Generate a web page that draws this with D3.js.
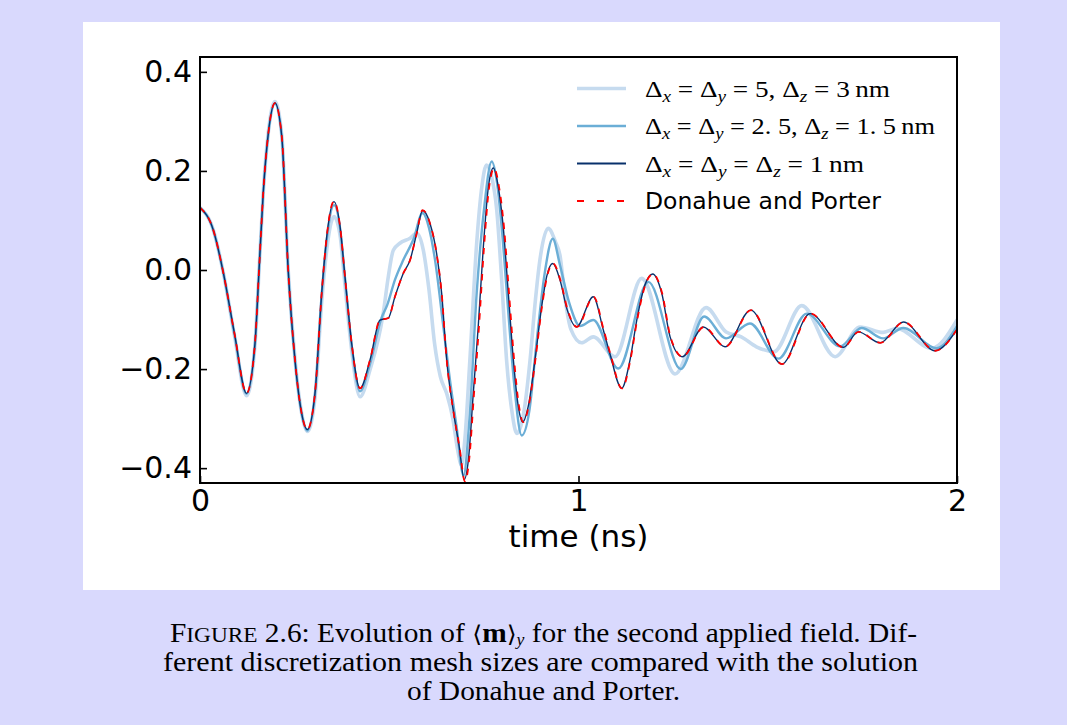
<!DOCTYPE html>
<html>
<head>
<meta charset="utf-8">
<script src="https://cdn.jsdelivr.net/npm/d3@7"></script>
<style>
  html, body { margin: 0; padding: 0; background: #d9d9fd; }
  svg { display: block; }
</style>
</head>
<body>
<svg id="fig" width="1067" height="725"></svg>
<script>
// <m>_y versus time for three mesh sizes and the reference solution

// Coarse mesh: dx = dy = 5 nm, dz = 3 nm
const tCoarse = [0, 0.035, 0.062, 0.091, 0.123, 0.1453, 0.156, 0.167, 0.1805, 0.198, 0.216, 0.233, 0.251, 0.2687, 0.2836, 0.3038, 0.3215, 0.3347, 0.354, 0.37, 0.383, 0.4007, 0.4227, 0.449, 0.484, 0.4976, 0.5107, 0.528, 0.555, 0.5725, 0.59, 0.605, 0.62, 0.635, 0.652, 0.668, 0.68, 0.691, 0.70, 0.713, 0.731, 0.745, 0.757, 0.77, 0.784, 0.797, 0.81, 0.825, 0.837, 0.855, 0.872, 0.885, 0.898, 0.92, 0.94, 0.951, 0.965, 0.98, 1.008, 1.039, 1.0964, 1.167, 1.255, 1.337, 1.39, 1.43, 1.47, 1.516, 1.59, 1.678, 1.744, 1.805, 1.8406, 1.933, 2.0];
const mCoarse = [0.126, 0.081, -0.007, -0.132, -0.254, -0.15, 0, 0.155, 0.278, 0.34, 0.272, 0, -0.18, -0.29, -0.326, -0.258, -0.065, 0.04, 0.108, 0.07, -0.03, -0.162, -0.256, -0.202, -0.088, -0.013, 0.04, 0.054, 0.064, 0.074, 0.04, -0.04, -0.15, -0.215, -0.25, -0.3, -0.36, -0.394, -0.34, -0.182, 0.054, 0.17, 0.212, 0.19, 0.121, -0.02, -0.182, -0.29, -0.33, -0.29, -0.182, -0.07, 0.02, 0.084, 0.055, 0.03, -0.06, -0.12, -0.147, -0.135, -0.175, -0.017, -0.21, -0.076, -0.125, -0.135, -0.155, -0.165, -0.072, -0.175, -0.115, -0.126, -0.118, -0.158, -0.101];

// Medium mesh: dx = dy = 2.5 nm, dz = 1.5 nm
const tMedium = [0, 0.035, 0.062, 0.091, 0.123, 0.1453, 0.156, 0.167, 0.1805, 0.198, 0.216, 0.233, 0.251, 0.2687, 0.2836, 0.3038, 0.3215, 0.3347, 0.354, 0.37, 0.383, 0.4007, 0.4227, 0.449, 0.478, 0.495, 0.515, 0.537, 0.564, 0.588, 0.605, 0.621, 0.643, 0.66, 0.678, 0.696, 0.712, 0.731, 0.75, 0.7706, 0.785, 0.80, 0.815, 0.83, 0.85, 0.87, 0.89, 0.91, 0.932, 0.951, 0.975, 1.004, 1.039, 1.105, 1.1845, 1.27, 1.332, 1.39, 1.453, 1.528, 1.603, 1.691, 1.748, 1.805, 1.858, 1.946, 2.0];
const mMedium = [0.126, 0.081, -0.007, -0.13, -0.25, -0.148, 0, 0.155, 0.275, 0.336, 0.27, 0, -0.183, -0.29, -0.324, -0.25, -0.05, 0.06, 0.131, 0.085, -0.016, -0.152, -0.245, -0.19, -0.1, -0.07, -0.02, 0.02, 0.062, 0.115, 0.085, 0.02, -0.115, -0.22, -0.317, -0.415, -0.3, -0.047, 0.12, 0.219, 0.175, 0.06, -0.09, -0.23, -0.334, -0.285, -0.14, -0.01, 0.063, 0.01, -0.065, -0.113, -0.101, -0.199, -0.024, -0.2, -0.094, -0.138, -0.108, -0.179, -0.088, -0.154, -0.117, -0.138, -0.117, -0.158, -0.113];

// Fine mesh: dx = dy = dz = 1 nm
const tFine = [0, 0.035, 0.062, 0.091, 0.123, 0.1453, 0.156, 0.167, 0.1805, 0.198, 0.216, 0.233, 0.251, 0.2687, 0.2836, 0.3038, 0.3215, 0.3347, 0.354, 0.37, 0.383, 0.4007, 0.4227, 0.449, 0.4756, 0.4975, 0.515, 0.537, 0.555, 0.5725, 0.588, 0.6077, 0.625, 0.6385, 0.6518, 0.669, 0.685, 0.698, 0.709, 0.722, 0.735, 0.7486, 0.762, 0.775, 0.788, 0.801, 0.8146, 0.828, 0.841, 0.8526, 0.867, 0.885, 0.9027, 0.916, 0.932, 0.951, 0.97, 0.995, 1.039, 1.0656, 1.083, 1.114, 1.136, 1.154, 1.1757, 1.196, 1.22, 1.242, 1.274, 1.33, 1.387, 1.455, 1.537, 1.612, 1.70, 1.739, 1.797, 1.858, 1.942, 2.0];
const mFine = [0.126, 0.081, -0.007, -0.128, -0.249, -0.148, 0, 0.155, 0.276, 0.337, 0.27, 0, -0.182, -0.29, -0.322, -0.249, -0.047, 0.067, 0.138, 0.088, -0.013, -0.148, -0.239, -0.182, -0.101, -0.097, -0.054, -0.007, 0.02, 0.074, 0.12, 0.094, 0.034, -0.047, -0.182, -0.283, -0.357, -0.423, -0.384, -0.249, -0.115, 0.047, 0.168, 0.206, 0.168, 0.088, -0.047, -0.182, -0.276, -0.307, -0.276, -0.182, -0.074, -0.013, 0.013, -0.02, -0.08, -0.115, -0.054, -0.121, -0.169, -0.239, -0.182, -0.101, -0.03, -0.008, -0.047, -0.135, -0.175, -0.115, -0.155, -0.081, -0.19, -0.088, -0.156, -0.125, -0.147, -0.105, -0.163, -0.12];

// Donahue and Porter reference solution
const tRef = [0, 0.035, 0.062, 0.091, 0.123, 0.1453, 0.156, 0.167, 0.1805, 0.198, 0.216, 0.233, 0.251, 0.2687, 0.2836, 0.3038, 0.3215, 0.3347, 0.354, 0.37, 0.383, 0.4007, 0.4227, 0.449, 0.4756, 0.4975, 0.515, 0.537, 0.555, 0.5725, 0.588, 0.6077, 0.625, 0.6385, 0.6518, 0.669, 0.686, 0.70, 0.711, 0.724, 0.737, 0.7505, 0.764, 0.777, 0.79, 0.803, 0.8165, 0.83, 0.843, 0.854, 0.868, 0.886, 0.9035, 0.917, 0.933, 0.952, 0.971, 0.996, 1.04, 1.0666, 1.084, 1.115, 1.137, 1.155, 1.1767, 1.197, 1.221, 1.243, 1.275, 1.331, 1.388, 1.456, 1.538, 1.613, 1.70, 1.74, 1.798, 1.859, 1.943, 2.0];
const mRef = [0.126, 0.081, -0.007, -0.128, -0.249, -0.148, 0, 0.155, 0.276, 0.337, 0.27, 0, -0.182, -0.29, -0.322, -0.249, -0.047, 0.067, 0.139, 0.088, -0.013, -0.148, -0.239, -0.182, -0.101, -0.097, -0.054, -0.007, 0.02, 0.074, 0.121, 0.094, 0.034, -0.047, -0.182, -0.283, -0.36, -0.427, -0.384, -0.249, -0.115, 0.047, 0.168, 0.205, 0.168, 0.088, -0.047, -0.182, -0.276, -0.307, -0.276, -0.182, -0.074, -0.013, 0.013, -0.02, -0.08, -0.115, -0.054, -0.121, -0.169, -0.239, -0.182, -0.101, -0.03, -0.008, -0.047, -0.135, -0.175, -0.115, -0.155, -0.081, -0.19, -0.088, -0.156, -0.125, -0.147, -0.105, -0.163, -0.12];

const xTicks = [0, 1, 2];
const xTickLabels = ["0", "1", "2"];
const yTicks = [-0.4, -0.2, 0.0, 0.2, 0.4];
const yTickLabels = ["\u22120.4", "\u22120.2", "0.0", "0.2", "0.4"];
const xLabel = "time (ns)";

const W = 1067, H = 725;
const svg = d3.select("#fig");

// page background and figure panel
svg.append("rect").attr("width", W).attr("height", H).attr("fill", "#d9d9fd");
svg.append("rect").attr("x", 83).attr("y", 22).attr("width", 917).attr("height", 568).attr("fill", "#ffffff");

const plot = { left: 200, right: 957, top: 57, bottom: 483 };
const x = d3.scaleLinear().domain([0, 2]).range([plot.left, plot.right]);
const y = d3.scaleLinear().domain([-0.43, 0.43]).range([plot.bottom, plot.top]);

svg.append("clipPath").attr("id", "plotClip")
  .append("rect")
  .attr("x", plot.left).attr("y", plot.top)
  .attr("width", plot.right - plot.left).attr("height", plot.bottom - plot.top);

const series = [
  { name: "coarse", t: tCoarse, m: mCoarse, color: "#c6dbef", width: 3.6, dash: null, legendDash: null },
  { name: "medium", t: tMedium, m: mMedium, color: "#6baed6", width: 2.4, dash: null, legendDash: null },
  { name: "fine",   t: tFine,   m: mFine,   color: "#08306b", width: 1.4, dash: null, legendDash: null },
  { name: "ref",    t: tRef,    m: mRef,    color: "#ff0000", width: 1.8, dash: "6.5,6.5", legendDash: "7,13" }
];

const line = d3.line()
  .x(d => x(d[0]))
  .y(d => y(d[1]))
  .curve(d3.curveMonotoneX);

const lines = svg.append("g").attr("clip-path", "url(#plotClip)");
series.forEach(s => {
  const pts = s.t.map((tv, i) => [tv, s.m[i]]);
  lines.append("path")
    .datum(pts)
    .attr("d", line)
    .attr("fill", "none")
    .attr("stroke", s.color)
    .attr("stroke-width", s.width)
    .attr("stroke-linejoin", "round")
    .attr("stroke-linecap", s.dash ? "butt" : "round")
    .attr("stroke-dasharray", s.dash);
});

// axes: ticks point inward, left and bottom only
const yAxis = d3.axisLeft(y)
  .tickValues(yTicks)
  .tickFormat((d, i) => yTickLabels[i])
  .tickSizeInner(-7).tickSizeOuter(0).tickPadding(8);
const gy = svg.append("g").attr("transform", `translate(${plot.left},0)`).call(yAxis);

const xAxis = d3.axisBottom(x)
  .tickValues(xTicks)
  .tickFormat((d, i) => xTickLabels[i])
  .tickSizeInner(-7).tickSizeOuter(0).tickPadding(7);
const gx = svg.append("g").attr("transform", `translate(0,${plot.bottom})`).call(xAxis);

[gx, gy].forEach(g => {
  g.select(".domain").remove();
  g.selectAll(".tick line").attr("stroke", "#000").attr("stroke-width", 1.6);
  g.selectAll(".tick text")
    .attr("fill", "#000")
    .style("font-family", "'DejaVu Sans', sans-serif")
    .style("font-size", "30px");
});

// frame
svg.append("rect")
  .attr("x", plot.left).attr("y", plot.top)
  .attr("width", plot.right - plot.left).attr("height", plot.bottom - plot.top)
  .attr("fill", "none").attr("stroke", "#000").attr("stroke-width", 2);

svg.append("text")
  .attr("x", (plot.left + plot.right) / 2).attr("y", 547)
  .attr("text-anchor", "middle")
  .style("font-family", "'DejaVu Sans', sans-serif")
  .style("font-size", "31px")
  .text(xLabel);

// legend
const legendRows = [
  { key: "coarse", parts: [["\u0394"], ["x", 1], [" = \u0394"], ["y", 1], [" = 5, \u0394"], ["z", 1], [" = 3\u2009nm"]], width: 245 },
  { key: "medium", parts: [["\u0394"], ["x", 1], [" = \u0394"], ["y", 1], [" = 2. 5, \u0394"], ["z", 1], [" = 1. 5\u2009nm"]], width: 290 },
  { key: "fine",   parts: [["\u0394"], ["x", 1], [" = \u0394"], ["y", 1], [" = \u0394"], ["z", 1], [" = 1\u2009nm"]], width: 219 },
  { key: "ref",    text: "Donahue and Porter" }
];
const legend = svg.append("g");
const rowY = [88.5, 126, 163.5, 201];
legendRows.forEach((row, i) => {
  const s = series.find(d => d.name === row.key);
  legend.append("line")
    .attr("x1", 577).attr("x2", 626)
    .attr("y1", rowY[i]).attr("y2", rowY[i])
    .attr("stroke", s.color)
    .attr("stroke-width", Math.max(s.width, 1.8))
    .attr("stroke-dasharray", s.legendDash);
  if (row.text) {
    legend.append("text")
      .attr("x", 645).attr("y", rowY[i] + 8.4)
      .style("font-family", "'DejaVu Sans', sans-serif")
      .style("font-size", "23.5px")
      .text(row.text);
  } else {
    const t = legend.append("text")
      .attr("x", 645).attr("y", rowY[i] + 8.3)
      .attr("textLength", row.width)
      .attr("lengthAdjust", "spacingAndGlyphs")
      .style("font-family", "'Liberation Serif', 'DejaVu Serif', serif")
      .style("font-size", "24px");
    row.parts.forEach(p => {
      const ts = t.append("tspan").text(p[0]);
      if (p[1]) {
        ts.attr("dy", 5).style("font-style", "italic").style("font-size", "17px");
      } else {
        ts.attr("dy", -5);
      }
    });
    t.select("tspan").attr("dy", 0);
  }
});

// caption
const cap = svg.append("g")
  .style("font-family", "'Liberation Serif', 'DejaVu Serif', serif")
  .attr("fill", "#000");
const capSize = 26.5;

const l1 = cap.append("text").attr("x", 170).attr("y", 642)
  .attr("textLength", 747).attr("lengthAdjust", "spacingAndGlyphs")
  .style("font-size", capSize + "px");
l1.append("tspan").text("F");
l1.append("tspan").style("font-size", "21px").text("IGURE");
l1.append("tspan").text(" 2.6: Evolution of ");
l1.append("tspan").style("font-family", "'DejaVu Serif', serif").style("font-size", "23px").text("\u27E8");
l1.append("tspan").style("font-weight", "bold").text("m");
l1.append("tspan").style("font-family", "'DejaVu Serif', serif").style("font-size", "23px").text("\u27E9");
l1.append("tspan").attr("dy", 3).style("font-style", "italic").style("font-size", "16px").text("y");
l1.append("tspan").attr("dy", -3).text(" for the second applied field. Dif-");

cap.append("text").attr("x", 163).attr("y", 671)
  .attr("textLength", 755).attr("lengthAdjust", "spacingAndGlyphs")
  .style("font-size", capSize + "px")
  .text("ferent discretization mesh sizes are compared with the solution");

cap.append("text").attr("x", 407).attr("y", 699.5)
  .attr("textLength", 273).attr("lengthAdjust", "spacingAndGlyphs")
  .style("font-size", capSize + "px")
  .text("of Donahue and Porter.");
</script>
</body>
</html>
